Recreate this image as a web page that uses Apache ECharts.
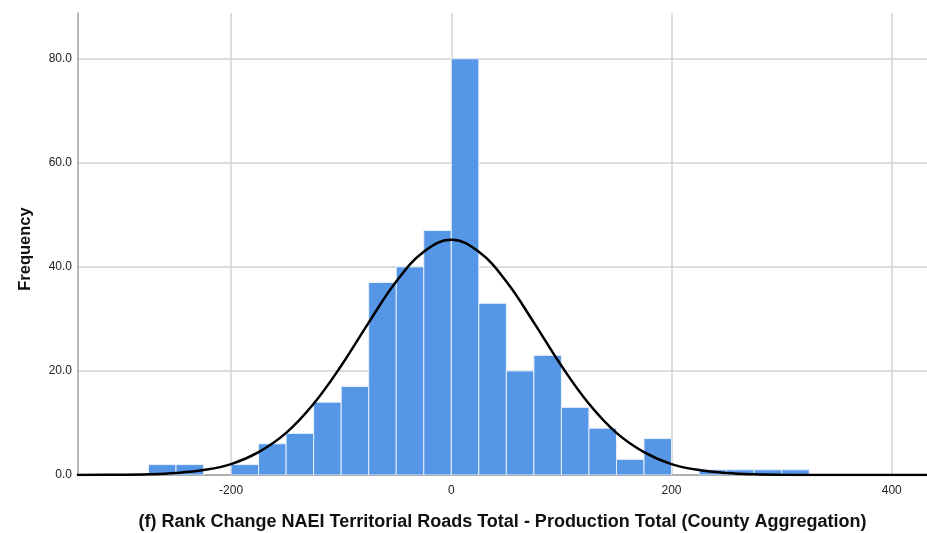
<!DOCTYPE html>
<html>
<head>
<meta charset="utf-8">
<script src="https://cdn.jsdelivr.net/npm/echarts@6/dist/echarts.min.js"></script>
<style>
html,body{margin:0;padding:0;background:#fff;}
#chart{width:927px;height:533px;}
</style>
</head>
<body>
<div id="chart"></div>
<script>
// Histogram bins (lower edge) and counts
const binStarts = [-275, -250, -225, -200, -175, -150, -125, -100, -75, -50, -25, 0, 25, 50, 75, 100, 125, 150, 175, 200, 225, 250, 275, 300];
const binCounts = [2, 2, 0, 2, 6, 8, 14, 17, 37, 40, 47, 80, 33, 20, 23, 13, 9, 3, 7, 0, 1, 1, 1, 1];
const binWidth = 25;

// Fitted normal curve
const curveX = [-340, -300, -275, -250, -225, -200, -175, -150, -125, -100, -75, -50, -25, 0, 25, 50, 75, 100, 125, 150, 175, 200, 225, 250, 275, 300, 340, 432];
const curveY = [0.01, 0.05, 0.14, 0.39, 0.95, 2.1, 4.4, 8.1, 13.7, 21.0, 29.3, 37.2, 42.9, 45.2, 42.9, 37.2, 29.3, 21.0, 13.7, 8.1, 4.4, 2.1, 0.95, 0.39, 0.14, 0.05, 0.01, 0.0];

const xTicks = [-200, 0, 200, 400];
const yTicks = [0, 20, 40, 60, 80];

const xTitle = '(f) Rank Change NAEI Territorial Roads Total - Production Total (County Aggregation)';
const yTitle = 'Frequency';

const histData = binStarts.map((s, i) => [s, s + binWidth, binCounts[i]]);
const curveData = curveX.map((x, i) => [x, curveY[i]]);

const chart = echarts.init(document.getElementById('chart'), null, {renderer: 'canvas'});
chart.setOption({
  animation: false,
  backgroundColor: '#fff',
  grid: {left: 78, right: 0, top: 13, bottom: 58, containLabel: false, outerBoundsMode: 'none'},
  xAxis: {
    type: 'value',
    min: -339,
    max: 432,
    name: xTitle,
    nameLocation: 'middle',
    nameGap: 38,
    nameTextStyle: {fontFamily: 'Liberation Sans', fontSize: 18, fontWeight: 'bold', color: '#111'},
    axisLine: {show: true, onZero: false, lineStyle: {color: '#a0a0a0', width: 1.5}},
    axisTick: {show: false, customValues: xTicks},
    axisLabel: {customValues: xTicks, fontFamily: 'Liberation Sans', fontSize: 12, color: '#222', margin: 10},
    splitLine: {show: true, lineStyle: {color: '#d2d2d2', width: 1.5}}
  },
  yAxis: {
    type: 'value',
    min: 0,
    max: 88.8,
    name: yTitle,
    nameLocation: 'middle',
    nameGap: 44,
    nameRotate: 90,
    nameTextStyle: {fontFamily: 'Liberation Sans', fontSize: 16.5, fontWeight: 'bold', color: '#111', padding: [0, 10, 0, 0]},
    axisLine: {show: true, onZero: false, lineStyle: {color: '#a0a0a0', width: 1.5}},
    axisTick: {show: false, customValues: yTicks},
    axisLabel: {
      customValues: yTicks,
      fontFamily: 'Liberation Sans', fontSize: 12, color: '#222', margin: 6,
      formatter: v => v.toFixed(1)
    },
    splitLine: {show: true, lineStyle: {color: '#d2d2d2', width: 1.5}}
  },
  series: [
    {
      type: 'custom',
      data: histData,
      encode: {x: [0, 1], y: 2},
      clip: true,
      renderItem: function (params, api) {
        const v = api.value(2);
        if (!v) return null;
        const p0 = api.coord([api.value(0), 0]);
        const p1 = api.coord([api.value(1), v]);
        return {
          type: 'rect',
          shape: {x: p0[0], y: p1[1], width: p1[0] - p0[0], height: p0[1] - p1[1]},
          style: {fill: '#5596e6', stroke: '#e6effb', lineWidth: 1}
        };
      },
      z: 2
    },
    {
      type: 'line',
      data: curveData,
      smooth: 0.4,
      showSymbol: false,
      lineStyle: {color: '#000', width: 2.5},
      z: 3
    }
  ]
});
</script>
</body>
</html>
